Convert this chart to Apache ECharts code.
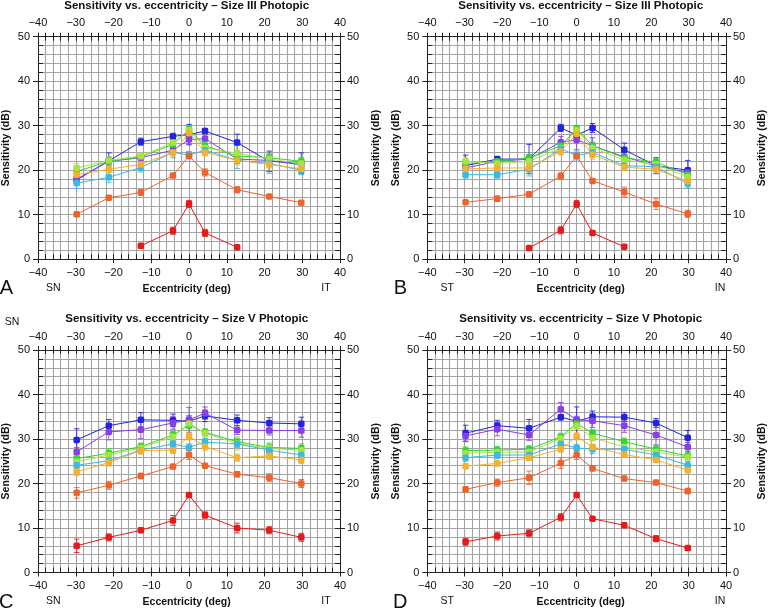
<!DOCTYPE html>
<html><head><meta charset="utf-8">
<script src="https://cdn.jsdelivr.net/npm/echarts@6/dist/echarts.min.js"></script>
<style>html,body{margin:0;padding:0;background:#fff}#c{width:769px;height:608px}</style>
</head><body><div id="c"></div>
<script>
// Eccentricity positions (deg)
const ecc = [-29.75, -21.25, -12.75, -4.25, 0, 4.25, 12.75, 21.25, 29.75];
const axisTicks = [-40, -30, -20, -10, 0, 10, 20, 30, 40];
const yTicks = [0, 10, 20, 30, 40, 50];
const colors = ['#2323e0', '#8a3ee6', '#2ed62e', '#a8e244', '#3ab9e2', '#f2b22e', '#f0622a', '#e61a1a'];

// Panel A
const blueA = [17.8, 22.1, 26.4, 27.6, 28.0, 28.8, 26.2, 22.0, 21.6];
const violetA = [18.0, 22.0, 22.8, 24.5, 26.9, 27.1, 22.5, 22.2, 21.2];
const greenA = [19.7, 22.0, 23.0, 25.8, 29.2, 25.5, 23.2, 22.8, 22.0];
const lgreenA = [20.5, 22.2, 23.2, 26.2, 29.0, 25.0, 23.8, 22.5, 21.5];
const cyanA = [17.1, 18.4, 20.6, 24.0, 23.4, 24.5, 22.2, 21.5, 20.0];
const orangeA = [19.0, 20.2, 21.3, 24.0, 28.3, 24.0, 22.2, 21.3, 20.3];
const oredA = [10.1, 13.8, 15.0, 18.8, 23.2, 19.5, 15.6, 14.1, 12.7];
const redA = [null, null, 3.0, 6.4, 12.4, 5.9, 2.7, null, null];
const blueAe = [0.8, 1.8, 0.8, 0.7, 2.3, 0.6, 1.9, 2.3, 2.3];
const violetAe = [0.5, 1.0, 0.8, 0.8, 1.0, 0.5, 1.0, 1.0, 1.0];
const greenAe = [1.0, 0.8, 0.6, 0.8, 0.8, 0.8, 1.0, 0.8, 0.8];
const lgreenAe = [1.0, 0.8, 0.6, 0.8, 0.8, 0.8, 1.0, 0.8, 0.8];
const cyanAe = [1.2, 1.2, 1.0, 1.2, 0.8, 1.0, 1.8, 2.2, 1.0];
const orangeAe = [0.8, 0.8, 0.8, 0.8, 0.8, 0.8, 1.0, 0.8, 0.8];
const oredAe = [0.5, 0.4, 0.7, 0.4, 0.5, 0.8, 0.7, 0.4, 0.5];
const redAe = [null, null, 0.4, 0.8, 0.8, 0.8, 0.4, null, null];

// Panel B
const blueB = [21.0, 22.5, 22.5, 29.5, 27.9, 29.5, 24.6, 21.0, 20.0];
const violetB = [20.5, 22.0, 22.5, 26.3, 26.8, 25.5, 23.0, 21.0, 19.5];
const greenB = [21.5, 22.0, 22.7, 25.5, 29.3, 25.5, 22.8, 21.8, 19.0];
const lgreenB = [22.0, 21.5, 22.0, 25.0, 29.0, 25.0, 22.3, 21.3, 18.5];
const cyanB = [19.0, 19.0, 20.2, 24.8, 23.3, 24.0, 21.0, 20.8, 17.0];
const orangeB = [20.3, 20.5, 20.5, 24.2, 28.2, 23.5, 20.7, 20.2, 17.5];
const oredB = [12.8, 13.6, 14.6, 18.7, 23.2, 17.6, 15.1, 12.4, 10.2];
const redB = [null, null, 2.5, 6.5, 12.4, 5.9, 2.8, null, null];
const blueBe = [2.4, 0.5, 3.3, 0.8, 0.8, 1.0, 1.5, 1.8, 2.2];
const violetBe = [1.0, 0.8, 1.0, 1.3, 2.2, 1.8, 1.0, 1.0, 1.0];
const greenBe = [0.8, 0.8, 0.8, 0.8, 0.8, 0.8, 0.8, 0.8, 0.8];
const lgreenBe = [0.8, 0.8, 0.8, 0.8, 0.8, 0.8, 0.8, 0.8, 0.8];
const cyanBe = [0.8, 0.8, 1.5, 1.0, 1.0, 1.0, 1.0, 1.0, 1.0];
const orangeBe = [0.8, 0.8, 0.8, 0.8, 0.8, 1.0, 0.8, 0.8, 0.8];
const oredBe = [0.4, 0.6, 0.5, 0.7, 0.5, 0.5, 1.1, 1.2, 0.8];
const redBe = [null, null, 0.3, 0.8, 0.8, 0.4, 0.3, null, null];

// Panel C
const blueC = [29.8, 33.0, 34.3, 34.2, 34.0, 35.2, 34.2, 33.6, 33.4];
const violetC = [27.1, 31.6, 32.1, 33.6, 34.3, 35.8, 32.0, 31.9, 31.9];
const greenC = [25.6, 26.8, 28.3, 30.9, 33.1, 31.5, 29.4, 28.1, 27.9];
const lgreenC = [24.9, 26.4, 28.0, 30.5, 33.5, 31.3, 29.0, 27.9, 27.5];
const cyanC = [24.1, 25.1, 27.5, 28.9, 28.1, 29.3, 28.9, 27.5, 26.4];
const orangeC = [22.6, 24.7, 27.4, 27.5, 30.6, 28.3, 25.8, 26.2, 25.3];
const oredC = [17.9, 19.6, 21.7, 23.8, 26.4, 24.0, 22.1, 21.3, 20.0];
const redC = [6.0, 7.9, 9.5, 11.7, 17.4, 12.9, 10.0, 9.5, 7.9];
const blueCe = [2.5, 1.4, 1.6, 1.4, 1.2, 1.3, 1.2, 1.2, 1.5];
const violetCe = [1.0, 1.8, 2.0, 1.4, 2.8, 1.4, 1.0, 1.0, 1.5];
const greenCe = [0.8, 1.0, 0.8, 0.8, 0.8, 0.8, 0.8, 1.0, 1.0];
const lgreenCe = [0.8, 1.0, 0.8, 0.8, 0.8, 0.8, 1.5, 1.0, 1.0];
const cyanCe = [0.8, 0.8, 0.8, 0.8, 0.8, 0.8, 0.8, 0.8, 0.8];
const orangeCe = [0.8, 0.8, 0.8, 0.8, 0.8, 0.8, 0.8, 0.8, 0.8];
const oredCe = [1.2, 0.9, 0.6, 0.5, 1.0, 0.5, 0.6, 0.9, 0.9];
const redCe = [1.5, 0.8, 0.5, 1.1, 0.5, 0.7, 1.1, 0.8, 0.9];

// Panel D
const blueD = [31.3, 33.0, 32.4, 34.9, 34.0, 35.0, 34.9, 33.6, 30.3];
const violetD = [30.7, 32.2, 30.9, 36.7, 34.3, 34.1, 33.0, 30.9, 28.2];
const greenD = [27.4, 27.5, 27.7, 30.5, 33.5, 31.3, 29.4, 27.7, 26.2];
const lgreenD = [26.8, 27.0, 27.1, 30.1, 33.0, 30.3, 28.2, 27.1, 25.9];
const cyanD = [25.8, 26.4, 26.4, 28.9, 28.0, 27.7, 27.7, 26.4, 24.1];
const orangeD = [23.9, 24.5, 25.8, 27.7, 30.6, 28.2, 26.5, 25.3, 23.0];
const oredD = [18.7, 20.2, 21.3, 24.6, 26.4, 23.4, 21.1, 20.2, 18.3];
const redD = [6.9, 8.2, 8.8, 12.4, 17.4, 12.1, 10.6, 7.6, 5.5];
const blueDe = [1.8, 1.2, 2.0, 0.6, 3.2, 1.3, 1.0, 1.0, 1.6];
const violetDe = [1.3, 1.5, 1.2, 1.5, 0.8, 1.5, 1.5, 2.2, 1.0];
const greenDe = [0.8, 0.8, 0.8, 0.8, 0.8, 0.8, 0.8, 0.8, 0.8];
const lgreenDe = [0.8, 0.8, 0.8, 0.8, 0.8, 0.8, 0.8, 0.8, 0.8];
const cyanDe = [0.8, 0.8, 0.8, 0.8, 0.8, 1.0, 0.8, 0.8, 0.8];
const orangeDe = [0.6, 0.6, 0.6, 0.6, 0.8, 0.6, 0.6, 0.6, 0.6];
const oredDe = [0.6, 0.8, 1.5, 1.2, 1.0, 0.6, 0.5, 0.5, 0.6];
const redDe = [0.8, 0.9, 0.8, 0.8, 0.5, 0.4, 0.5, 0.7, 0.5];

const panels = [
  {left: 33.3, top: 36.7, title: 'Sensitivity vs. eccentricity \u2013 Size III Photopic', l: 'SN', r: 'IT', letter: 'A',
   vals: [blueA, violetA, greenA, lgreenA, cyanA, orangeA, oredA, redA],
   errs: [blueAe, violetAe, greenAe, lgreenAe, cyanAe, orangeAe, oredAe, redAe]},
  {left: 427.3, top: 36.7, title: 'Sensitivity vs. eccentricity \u2013 Size III Photopic', l: 'ST', r: 'IN', letter: 'B',
   vals: [blueB, violetB, greenB, lgreenB, cyanB, orangeB, oredB, redB],
   errs: [blueBe, violetBe, greenBe, lgreenBe, cyanBe, orangeBe, oredBe, redBe]},
  {left: 33.3, top: 350, title: 'Sensitivity vs. eccentricity \u2013 Size V Photopic', l: 'SN', r: 'IT', letter: 'C',
   vals: [blueC, violetC, greenC, lgreenC, cyanC, orangeC, oredC, redC],
   errs: [blueCe, violetCe, greenCe, lgreenCe, cyanCe, orangeCe, oredCe, redCe]},
  {left: 427.3, top: 350, title: 'Sensitivity vs. eccentricity \u2013 Size V Photopic', l: 'ST', r: 'IN', letter: 'D',
   vals: [blueD, violetD, greenD, lgreenD, cyanD, orangeD, oredD, redD],
   errs: [blueDe, violetDe, greenDe, lgreenDe, cyanDe, orangeDe, oredDe, redDe]}
];
const W = 306.7, H = 222.5;
const FONT = '"Liberation Sans", Arial, sans-serif';
const gridColor = '#a4a4a4';
const lineCol = '#222';
const fmt = v => String(v).replace('-', '\u2212');

const grid = [], xAxis = [], yAxis = [], series = [], graphic = [];

panels.forEach((p, pi) => {
  grid.push({left: p.left, top: p.top, width: W, height: H, containLabel: false});
  const xBase = {gridIndex: pi, type: 'value', min: -40, max: 40, interval: 10};
  const yBase = {gridIndex: pi, type: 'value', min: 0, max: 50, interval: 10};
  const lbl = {color: '#111', fontSize: 11, fontFamily: FONT, formatter: fmt};
  // bottom outer
  xAxis.push(Object.assign({}, xBase, {position: 'bottom',
    axisLine: {show: true, onZero: false, lineStyle: {color: lineCol, width: 1}},
    axisTick: {show: true, inside: false, length: 4, lineStyle: {color: lineCol}},
    axisLabel: Object.assign({margin: 8}, lbl),
    splitLine: {show: true, lineStyle: {color: gridColor, width: 1.1}},
    minorTick: {show: false, splitNumber: 5},
    minorSplitLine: {show: true, lineStyle: {color: gridColor, width: 1.1}}}));
  // bottom inner
  xAxis.push(Object.assign({}, xBase, {position: 'bottom',
    axisLine: {show: false, onZero: false},
    axisTick: {show: true, inside: true, length: 5, lineStyle: {color: lineCol}},
    minorTick: {show: true, splitNumber: 5, length: 5, lineStyle: {color: lineCol}},
    axisLabel: {show: false}, splitLine: {show: false}}));
  // top outer
  xAxis.push(Object.assign({}, xBase, {position: 'top',
    axisLine: {show: true, onZero: false, lineStyle: {color: lineCol, width: 1}},
    axisTick: {show: true, inside: false, length: 4, lineStyle: {color: lineCol}},
    minorTick: {show: true, splitNumber: 5, length: 4, lineStyle: {color: lineCol}},
    axisLabel: Object.assign({margin: 8}, lbl), splitLine: {show: false}}));
  // top inner
  xAxis.push(Object.assign({}, xBase, {position: 'top',
    axisLine: {show: false, onZero: false},
    axisTick: {show: true, inside: true, length: 4, lineStyle: {color: lineCol}},
    minorTick: {show: true, splitNumber: 5, length: 4, lineStyle: {color: lineCol}},
    axisLabel: {show: false}, splitLine: {show: false}}));
  const nameStyle = {color: '#111', fontSize: 10.5, fontWeight: 'bold', fontFamily: FONT};
  // left outer
  yAxis.push(Object.assign({}, yBase, {position: 'left',
    name: 'Sensitivity (dB)', nameLocation: 'middle', nameGap: 26, nameRotate: 90, nameTextStyle: nameStyle,
    axisLine: {show: true, onZero: false, lineStyle: {color: lineCol, width: 1}},
    axisTick: {show: true, inside: false, length: 5, lineStyle: {color: lineCol}},
    axisLabel: Object.assign({margin: 8}, lbl),
    splitLine: {show: true, lineStyle: {color: gridColor, width: 1.1}},
    minorTick: {show: false, splitNumber: 5},
    minorSplitLine: {show: true, lineStyle: {color: gridColor, width: 1.1}}}));
  // left inner
  yAxis.push(Object.assign({}, yBase, {position: 'left',
    axisLine: {show: false, onZero: false},
    axisTick: {show: true, inside: true, length: 5, lineStyle: {color: lineCol}},
    minorTick: {show: true, splitNumber: 5, length: 5, lineStyle: {color: lineCol}},
    axisLabel: {show: false}, splitLine: {show: false}}));
  // right outer
  yAxis.push(Object.assign({}, yBase, {position: 'right',
    name: 'Sensitivity (dB)', nameLocation: 'middle', nameGap: 31, nameRotate: 90, nameTextStyle: nameStyle,
    axisLine: {show: true, onZero: false, lineStyle: {color: lineCol, width: 1}},
    axisTick: {show: true, inside: false, length: 5, lineStyle: {color: lineCol}},
    axisLabel: Object.assign({margin: 7}, lbl), splitLine: {show: false}}));
  // right inner
  yAxis.push(Object.assign({}, yBase, {position: 'right',
    axisLine: {show: false, onZero: false},
    axisTick: {show: true, inside: true, length: 5, lineStyle: {color: lineCol}},
    minorTick: {show: true, splitNumber: 5, length: 5, lineStyle: {color: lineCol}},
    axisLabel: {show: false}, splitLine: {show: false}}));

  const xi = pi * 4, yi = pi * 4;
  p.vals.forEach((vals, si) => {
    const col = colors[si];
    const errData = [];
    const lineData = [];
    ecc.forEach((x, k) => {
      if (vals[k] == null) return;
      lineData.push([x, vals[k]]);
      errData.push([x, vals[k], p.errs[si][k]]);
    });
    series.push({
      type: 'custom', xAxisIndex: xi, yAxisIndex: yi, z: 3, silent: true,
      data: errData,
      renderItem: (params, api) => {
        const x = api.value(0), y = api.value(1), e = api.value(2);
        const a = api.coord([x, y + e]), b = api.coord([x, y - e]);
        const hw = 2.8;
        const st = {stroke: col, lineWidth: 1, opacity: 0.85};
        return {type: 'group', children: [
          {type: 'line', shape: {x1: a[0], y1: a[1], x2: b[0], y2: b[1]}, style: st},
          {type: 'line', shape: {x1: a[0] - hw, y1: a[1], x2: a[0] + hw, y2: a[1]}, style: st},
          {type: 'line', shape: {x1: b[0] - hw, y1: b[1], x2: b[0] + hw, y2: b[1]}, style: st}
        ]};
      }
    });
    series.push({
      type: 'line', xAxisIndex: xi, yAxisIndex: yi, z: 4, silent: true,
      data: lineData, symbol: 'roundRect', symbolSize: 6.5,
      lineStyle: {color: col, width: 1},
      itemStyle: {color: col},
      animation: false
    });
  });

  const cx = p.left + W / 2;
  const titleY = p.top - 31;
  const bottomY = p.top + H + 29.5;
  graphic.push({type: 'text', x: cx, y: titleY, style: {text: p.title, fill: '#111',
    font: 'bold 11.5px ' + FONT, textAlign: 'center', textVerticalAlign: 'middle'}});
  graphic.push({type: 'text', x: cx, y: bottomY, style: {text: 'Eccentricity (deg)', fill: '#111',
    font: 'bold 10.5px ' + FONT, textAlign: 'center', textVerticalAlign: 'middle'}});
  graphic.push({type: 'text', x: p.left + 20, y: bottomY - 1, style: {text: p.l, fill: '#111',
    font: '10.5px ' + FONT, textAlign: 'center', textVerticalAlign: 'middle'}});
  graphic.push({type: 'text', x: p.left + W - 14, y: bottomY - 1, style: {text: p.r, fill: '#111',
    font: '10.5px ' + FONT, textAlign: 'center', textVerticalAlign: 'middle'}});
  graphic.push({type: 'text', x: p.left - 27, y: bottomY, style: {text: p.letter, fill: '#111',
    font: '20px ' + FONT, textAlign: 'center', textVerticalAlign: 'middle'}});
});
graphic.push({type: 'text', x: 12, y: 322, style: {text: 'SN', fill: '#111',
  font: '10.5px ' + FONT, textAlign: 'center', textVerticalAlign: 'middle'}});

const chart = echarts.init(document.getElementById('c'), null, {renderer: 'canvas'});
chart.setOption({
  animation: false,
  backgroundColor: '#fff',
  grid, xAxis, yAxis, series, graphic
});
</script></body></html>
